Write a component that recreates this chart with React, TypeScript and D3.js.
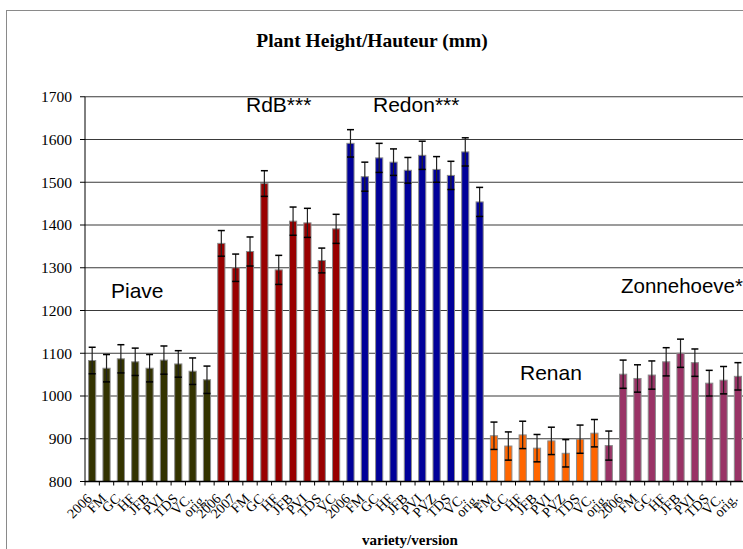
import React from "react";
import * as d3 from "d3";

// Plant height (mm) per variety/version, with error bars
const piaveLabels = ["2006", "FM", "GC", "HF", "JFB", "PVI", "TDS", "VC.", "orig."];
const piaveValues = [1083, 1065, 1087, 1080, 1065, 1084, 1075, 1058, 1038];
const piaveErrors = [31, 32, 33, 32, 32, 33, 31, 31, 32];

const rdbLabels = ["2006", "2007", "FM", "GC", "HF", "JFB", "PVI", "TDS", "VC"];
const rdbValues = [1357, 1300, 1338, 1497, 1295, 1409, 1405, 1317, 1391];
const rdbErrors = [30, 32, 34, 30, 34, 33, 34, 29, 34];

const redonLabels = ["2006", "FM", "GC", "HF", "JFB", "PVI", "PVZ", "TDS", "VC.", "orig."];
const redonValues = [1591, 1513, 1557, 1547, 1528, 1563, 1530, 1516, 1571, 1454];
const redonErrors = [32, 34, 34, 31, 30, 33, 30, 33, 33, 34];

const renanLabels = ["FM", "GC", "HF", "JFB", "PVI", "PVZ", "TDS", "VC.", "orig."];
const renanValues = [907, 883, 909, 878, 895, 866, 899, 913, 884];
const renanErrors = [32, 33, 32, 32, 32, 32, 33, 32, 34];

const zonneLabels = ["2006", "FM", "GC", "HF", "JFB", "PVI", "TDS", "VC.", "orig."];
const zonneValues = [1051, 1041, 1049, 1080, 1100, 1078, 1030, 1037, 1046];
const zonneErrors = [33, 32, 33, 33, 33, 32, 30, 32, 32];

const groupNames = ["Piave", "RdB***", "Redon***", "Renan", "Zonnehoeve*"];
const yTicks = [800, 900, 1000, 1100, 1200, 1300, 1400, 1500, 1600, 1700];

// fill runs along the axis (Renan's last bar shares the Zonnehoeve fill)
const fillRuns = [9, 9, 10, 8, 10];
const palette = ["#333300", "#990000", "#000099", "#FF6600", "#993366"];

const labels = [...piaveLabels, ...rdbLabels, ...redonLabels, ...renanLabels, ...zonneLabels];
const values = [...piaveValues, ...rdbValues, ...redonValues, ...renanValues, ...zonneValues];
const errors = [...piaveErrors, ...rdbErrors, ...redonErrors, ...renanErrors, ...zonneErrors];
const fills: string[] = fillRuns.flatMap((n, i) => Array(n).fill(palette[i]));

const W = 743;
const H = 549;
const left = 85;
const step = 14.35;
const serif = "'Liberation Serif', 'Times New Roman', serif";
const sans = "'Liberation Sans', Arial, sans-serif";

export default function App() {
  const n = values.length;
  const x = d3
    .scaleBand<number>()
    .domain(d3.range(n))
    .range([left, left + n * step])
    .paddingInner(0.5)
    .paddingOuter(0.25);
  const y = d3.scaleLinear().domain([800, 1700]).range([481.5, 96.75]);
  const bw = x.bandwidth();
  const groupPos = [
    { x: 111, y: 298, size: 21 },
    { x: 246, y: 112, size: 21 },
    { x: 373, y: 112, size: 21 },
    { x: 520, y: 380, size: 21 },
    { x: 621, y: 293, size: 20.5 },
  ];

  return (
    <svg
      width={W}
      height={H}
      style={{ position: "absolute", left: 0, top: 0, background: "#fff" }}
    >
      <rect x={6.5} y={10.5} width={900} height={700} fill="#fff" stroke="#8a8a8a" />
      <text
        x={372}
        y={47}
        textAnchor="middle"
        fontFamily={serif}
        fontWeight="bold"
        fontSize={19.5}
        fill="#000"
      >
        Plant Height/Hauteur (mm)
      </text>

      {/* horizontal grid lines */}
      {yTicks.map((t) => (
        <g key={t}>
          <line x1={left} x2={W} y1={y(t)} y2={y(t)} stroke="#3a3a3a" strokeWidth={1.2} />
          <line x1={left - 5} x2={left} y1={y(t)} y2={y(t)} stroke="#000" />
          <text
            x={72}
            y={y(t)}
            dy="0.35em"
            textAnchor="end"
            fontFamily={serif}
            fontSize={15.5}
            fill="#000"
          >
            {t}
          </text>
        </g>
      ))}

      {/* bars */}
      {values.map((v, i) => (
        <rect
          key={"b" + i}
          x={x(i)}
          y={y(v)}
          width={bw}
          height={y(800) - y(v)}
          fill={fills[i]}
          stroke="#8c8c8c"
          strokeWidth={1}
        />
      ))}

      {/* error bars */}
      {values.map((v, i) => {
        const cx = (x(i) as number) + bw / 2;
        const top = y(v + errors[i]);
        const bot = y(v - errors[i]);
        return (
          <g key={"e" + i}>
            <line x1={cx} x2={cx} y1={top} y2={bot} stroke="#222" strokeWidth={1.2} />
            <line x1={cx - 3.5} x2={cx + 3.5} y1={top} y2={top} stroke="#000" strokeWidth={1.5} />
            <line x1={cx - 3.5} x2={cx + 3.5} y1={bot} y2={bot} stroke="#000" strokeWidth={1.5} />
          </g>
        );
      })}

      {/* axes */}
      <line x1={left} x2={left} y1={y(1700)} y2={y(800)} stroke="#000" />
      <line x1={left} x2={W} y1={y(800)} y2={y(800)} stroke="#000" strokeWidth={1.5} />
      {d3.range(n + 1).map((i) => (
        <line
          key={"t" + i}
          x1={left + i * step}
          x2={left + i * step}
          y1={y(800)}
          y2={y(800) + 4}
          stroke="#000"
        />
      ))}

      {/* category labels */}
      {labels.map((l, i) => {
        const cx = (x(i) as number) + bw / 2;
        return (
          <text
            key={"l" + i}
            transform={`translate(${cx - 3},${496}) rotate(-45)`}
            textAnchor="end"
            dy="0.35em"
            fontFamily={serif}
            fontSize={14}
            fill="#000"
          >
            {l}
          </text>
        );
      })}

      {/* variety names */}
      {groupNames.map((g, i) => (
        <text
          key={g}
          x={groupPos[i].x}
          y={groupPos[i].y}
          fontFamily={sans}
          fontSize={groupPos[i].size}
          fill="#000"
        >
          {g}
        </text>
      ))}

      <text
        x={410}
        y={545}
        textAnchor="middle"
        fontFamily={serif}
        fontWeight="bold"
        fontSize={15}
        fill="#000"
      >
        variety/version
      </text>
    </svg>
  );
}
